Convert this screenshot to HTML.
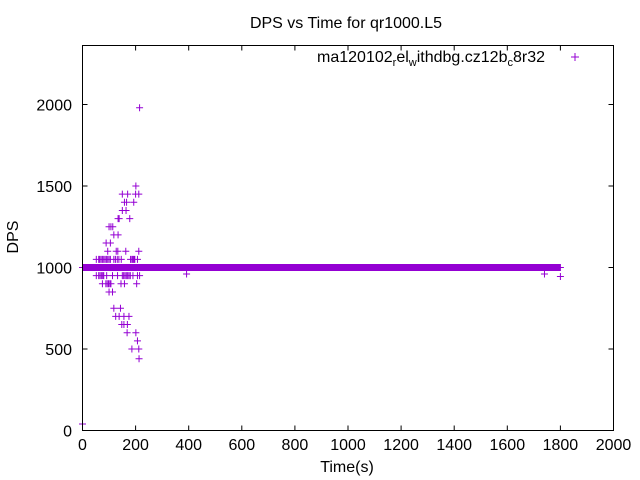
<!DOCTYPE html>
<html><head><meta charset="utf-8"><style>
body{margin:0;background:#fff}
svg{display:block;font-family:"Liberation Sans",sans-serif}
</style></head><body>
<svg id="chart" width="640" height="480">
<rect width="640" height="480" fill="#fff"/>
<text x="346" y="28" text-anchor="middle" font-size="16">DPS vs Time for qr1000.L5</text>
<text transform="translate(18,237) rotate(-90)" text-anchor="middle" font-size="16">DPS</text>
<text x="347" y="472" text-anchor="middle" font-size="16">Time(s)</text>
<g id="axes"></g>
<g id="points"></g>
<g>
<text x="545" y="62" text-anchor="end" font-size="16">ma120102<tspan font-size="11" dy="4">r</tspan><tspan dy="-4">el</tspan><tspan font-size="11" dy="4">w</tspan><tspan dy="-4">ithdbg.cz12b</tspan><tspan font-size="11" dy="4">c</tspan><tspan dy="-4">8r32</tspan></text>
<path d="M571,57h8M575,53v8" stroke="#9400d3" stroke-width="1"/>
</g>
<rect x="82.5" y="45.5" width="531" height="385" fill="none" stroke="#000" stroke-width="1"/>
</svg>
<script>
const xTicks=[0,200,400,600,800,1000,1200,1400,1600,1800,2000];
const yTicks=[0,500,1000,1500,2000];
const outTimes=[201,150,170,200,212,158,166,193,150,164,134,138,178,100,107,114,118,134,89,105,95,127,133,163,212,
52,61,65,70,75,80,85,90,95,100,105,118,124,131,137,146,181,186,190,194,197,207,
52,61,66,71,76,80,91,113,132,150,155,160,165,170,175,180,190,207,215,
75,88,93,98,103,107,145,158,204,100,113,392,1740,1800,
118,143,125,138,156,175,148,156,169,168,201,207,186,212,213,215,0];
const outValues=[1500,1450,1450,1450,1450,1400,1400,1400,1350,1350,1300,1300,1300,1250,1250,1250,1200,1200,1150,1150,1100,1100,1100,1100,1100,
1050,1050,1050,1050,1050,1050,1050,1050,1050,1050,1050,1050,1050,1050,1050,1050,1050,1050,1050,1050,1050,1050,
950,950,950,950,950,950,950,950,950,950,950,950,950,950,950,950,950,950,950,
900,900,900,900,900,900,900,900,900,850,850,960,960,945,
750,750,700,700,700,700,650,650,650,600,600,550,500,500,440,1980,40];
const baseStart=0, baseEnd=1800, baseValue=1000;
const X=t=>82.5+t*531/2000, Y=v=>430.5-v*0.163;
const NS="http://www.w3.org/2000/svg";
const ax=document.getElementById('axes');
let d='';
xTicks.forEach(t=>{const x=X(t);d+=`M${x},430.5v-5M${x},45.5v5`;
const tx=document.createElementNS(NS,'text');tx.setAttribute('x',x);tx.setAttribute('y',450);tx.setAttribute('text-anchor','middle');tx.setAttribute('font-size','16');tx.textContent=t;


ax.appendChild(tx);});
yTicks.forEach(v=>{const y=Y(v);d+=`M82.5,${y}h5M613.5,${y}h-5`;
const tx=document.createElementNS(NS,'text');tx.setAttribute('x',72);tx.setAttribute('y',y+6);tx.setAttribute('text-anchor','end');tx.setAttribute('font-size','16');tx.textContent=v;


ax.appendChild(tx);});
const tp=document.createElementNS(NS,'path');tp.setAttribute('d',d);tp.setAttribute('stroke','#000');


ax.appendChild(tp);
let p='';
const mk=(t,v)=>{const x=X(t),y=Y(v);p+=`M${x-3.5},${y}h7M${x},${y-3.5}v7`;};
for(let t=baseStart;t<=baseEnd;t+=1)mk(t,baseValue);
outTimes.forEach((t,i)=>mk(t,outValues[i]));
const pp=document.createElementNS(NS,'path');pp.setAttribute('d',p);pp.setAttribute('stroke','#9400d3');pp.setAttribute('fill','none');


document.getElementById('points').appendChild(pp);
</script>
</body></html>
